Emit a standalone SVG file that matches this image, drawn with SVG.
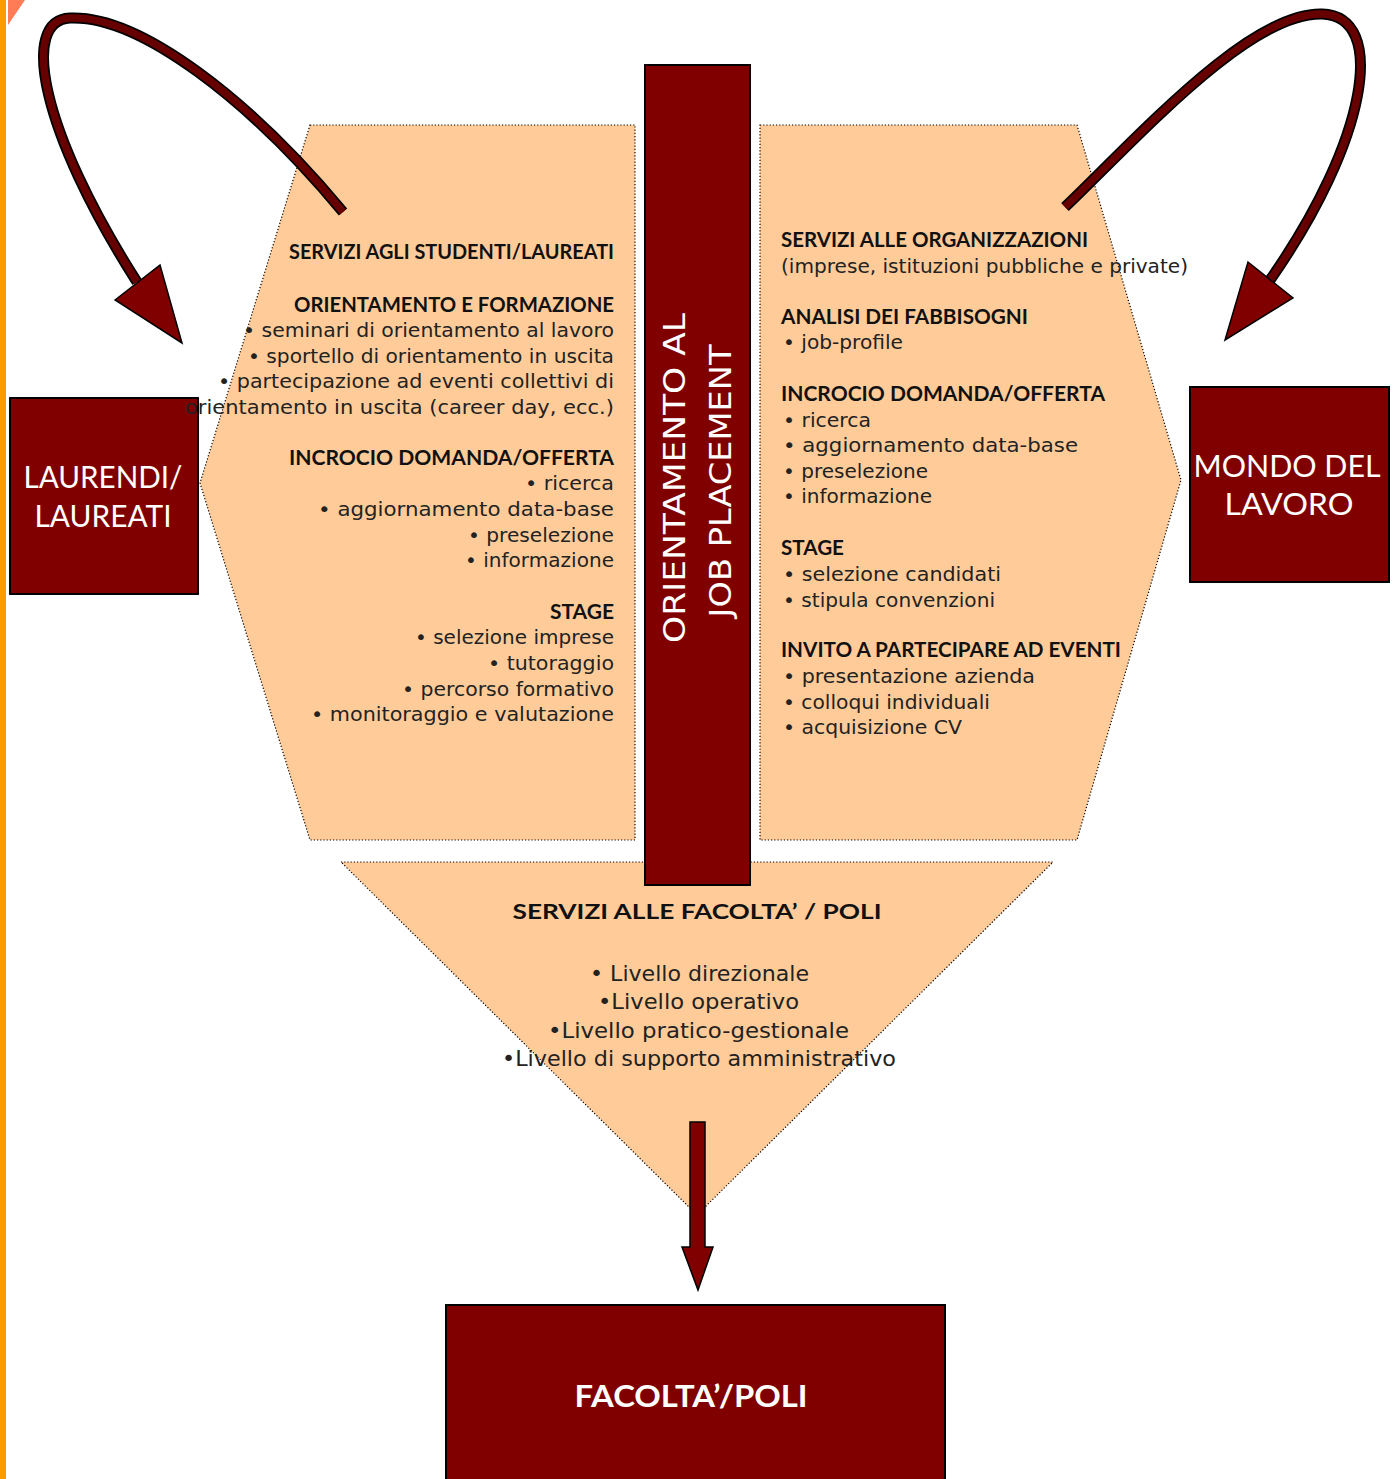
<svg xmlns="http://www.w3.org/2000/svg" width="1397" height="1479" viewBox="0 0 1397 1479">
<style>
.panel{fill:#FFCC99;stroke:#000;stroke-width:1.2;stroke-dasharray:1.2,2}
.box{fill:#800000;stroke:#000;stroke-width:2}
.h{font-family:Lato,"Open Sans",sans-serif;font-weight:700;font-size:20px;fill:#111}
.t{font-family:"DejaVu Sans","Liberation Sans",sans-serif;font-size:19px;fill:#222}
.bt{font-family:"DejaVu Sans","Liberation Sans",sans-serif;font-size:22px;fill:#222}
.lbl{font-family:Lato,"Open Sans",sans-serif;font-size:31px;fill:#fff}
.vt{font-family:"DejaVu Sans","Liberation Sans",sans-serif;font-size:31px;fill:#fff}
.shaftO{fill:none;stroke:#000;stroke-width:11}
.shaftI{fill:none;stroke:#660000;stroke-width:7.5}
.head{fill:#800000;stroke:#000;stroke-width:1.5;stroke-linejoin:miter}
</style>
<rect width="1397" height="1479" fill="#fff"/>
<rect x="0" y="0" width="6" height="1479" fill="#FF9900"/>
<polygon points="8,0 25,0 8,25" fill="#FF7C57"/>

<g id="laureati">
<rect class="box" x="10" y="398" width="188" height="196"/>
<text class="lbl" x="103" y="488" text-anchor="middle" textLength="159" lengthAdjust="spacingAndGlyphs">LAURENDI/</text>
<text class="lbl" x="103" y="527" text-anchor="middle" textLength="137" lengthAdjust="spacingAndGlyphs">LAUREATI</text>
</g>

<g id="panel-studenti">
<polygon class="panel" points="310,125 635,125 635,840 310,840 200,483"/>
<g class="h" text-anchor="end">
<text x="614" y="259" textLength="325" lengthAdjust="spacingAndGlyphs">SERVIZI AGLI STUDENTI/LAUREATI</text>
<text x="614" y="312" textLength="320" lengthAdjust="spacingAndGlyphs">ORIENTAMENTO E FORMAZIONE</text>
<text x="614" y="465" textLength="325" lengthAdjust="spacingAndGlyphs">INCROCIO DOMANDA/OFFERTA</text>
<text x="614" y="619" textLength="64" lengthAdjust="spacingAndGlyphs">STAGE</text>
</g>
<g class="t" text-anchor="end">
<text x="614" y="337" textLength="371" lengthAdjust="spacingAndGlyphs">• seminari di orientamento al lavoro</text>
<text x="614" y="363" textLength="366" lengthAdjust="spacingAndGlyphs">• sportello di orientamento in uscita</text>
<text x="614" y="388" textLength="396" lengthAdjust="spacingAndGlyphs">• partecipazione ad eventi collettivi di</text>
<text x="614" y="414" textLength="429" lengthAdjust="spacingAndGlyphs">orientamento in uscita (career day, ecc.)</text>
<text x="614" y="490" textLength="89" lengthAdjust="spacingAndGlyphs">• ricerca</text>
<text x="614" y="516" textLength="296" lengthAdjust="spacingAndGlyphs">• aggiornamento data-base</text>
<text x="614" y="542" textLength="146" lengthAdjust="spacingAndGlyphs">• preselezione</text>
<text x="614" y="567" textLength="149" lengthAdjust="spacingAndGlyphs">• informazione</text>
<text x="614" y="644" textLength="199" lengthAdjust="spacingAndGlyphs">• selezione imprese</text>
<text x="614" y="670" textLength="126" lengthAdjust="spacingAndGlyphs">• tutoraggio</text>
<text x="614" y="696" textLength="212" lengthAdjust="spacingAndGlyphs">• percorso formativo</text>
<text x="614" y="721" textLength="303" lengthAdjust="spacingAndGlyphs">• monitoraggio e valutazione</text>
</g>
</g>

<g id="panel-organizzazioni">
<polygon class="panel" points="760,125 1077,125 1181,480 1077,840 760,840"/>
<g class="h">
<text x="781" y="247" textLength="307" lengthAdjust="spacingAndGlyphs">SERVIZI ALLE ORGANIZZAZIONI</text>
<text x="781" y="324" textLength="247" lengthAdjust="spacingAndGlyphs">ANALISI DEI FABBISOGNI</text>
<text x="781" y="401" textLength="324" lengthAdjust="spacingAndGlyphs">INCROCIO DOMANDA/OFFERTA</text>
<text x="781" y="555" textLength="63" lengthAdjust="spacingAndGlyphs">STAGE</text>
<text x="781" y="657" textLength="340" lengthAdjust="spacingAndGlyphs">INVITO A PARTECIPARE AD EVENTI</text>
</g>
<g class="t">
<text x="781" y="273" textLength="407" lengthAdjust="spacingAndGlyphs">(imprese, istituzioni pubbliche e private)</text>
<text x="783" y="349" textLength="120" lengthAdjust="spacingAndGlyphs">• job-profile</text>
<text x="783" y="427" textLength="88" lengthAdjust="spacingAndGlyphs">• ricerca</text>
<text x="783" y="452" textLength="295" lengthAdjust="spacingAndGlyphs">• aggiornamento data-base</text>
<text x="783" y="478" textLength="145" lengthAdjust="spacingAndGlyphs">• preselezione</text>
<text x="783" y="503" textLength="149" lengthAdjust="spacingAndGlyphs">• informazione</text>
<text x="783" y="581" textLength="218" lengthAdjust="spacingAndGlyphs">• selezione candidati</text>
<text x="783" y="607" textLength="212" lengthAdjust="spacingAndGlyphs">• stipula convenzioni</text>
<text x="783" y="683" textLength="252" lengthAdjust="spacingAndGlyphs">• presentazione azienda</text>
<text x="783" y="709" textLength="207" lengthAdjust="spacingAndGlyphs">• colloqui individuali</text>
<text x="783" y="734" textLength="179" lengthAdjust="spacingAndGlyphs">• acquisizione CV</text>
</g>
</g>

<g id="panel-facolta">
<polygon class="panel" points="341,862 1053,862 697,1215"/>
<text class="h" x="697" y="919" font-size="24" text-anchor="middle" textLength="369" lengthAdjust="spacingAndGlyphs">SERVIZI ALLE FACOLTA’ / POLI</text>
<g class="bt">
<text x="590" y="981" textLength="219" lengthAdjust="spacingAndGlyphs">• Livello direzionale</text>
<text x="598" y="1009" textLength="201" lengthAdjust="spacingAndGlyphs">•Livello operativo</text>
<text x="548" y="1038" textLength="301" lengthAdjust="spacingAndGlyphs">•Livello pratico-gestionale</text>
<text x="502" y="1066" textLength="394" lengthAdjust="spacingAndGlyphs">•Livello di supporto amministrativo</text>
</g>
</g>

<g id="orientamento">
<rect class="box" x="645" y="65" width="105" height="820"/>
<text class="vt" transform="translate(685,478) rotate(-90)" text-anchor="middle" textLength="330" lengthAdjust="spacingAndGlyphs">ORIENTAMENTO AL</text>
<text class="vt" transform="translate(731,481) rotate(-90)" text-anchor="middle" textLength="273" lengthAdjust="spacingAndGlyphs">JOB PLACEMENT</text>
</g>

<g id="mondo-lavoro">
<rect class="box" x="1190" y="387" width="199" height="195"/>
<text class="lbl" x="1287" y="477" text-anchor="middle" textLength="187" lengthAdjust="spacingAndGlyphs">MONDO DEL</text>
<text class="lbl" x="1289" y="515" text-anchor="middle" textLength="129" lengthAdjust="spacingAndGlyphs">LAVORO</text>
</g>

<g id="facolta-poli">
<rect class="box" x="446" y="1305" width="499" height="180"/>
<text class="lbl" x="691" y="1407" font-weight="700" text-anchor="middle" textLength="233" lengthAdjust="spacingAndGlyphs">FACOLTA’/POLI</text>
</g>

<g id="connectors">
<path class="shaftO" d="M343,212 C250,100 140,15 70,18 C20,20 40,130 137,282"/>
<path class="shaftI" d="M343,212 C250,100 140,15 70,18 C20,20 40,130 137,282"/>
<polygon class="head" points="115,300 160,265 182,343"/>
<path class="shaftO" d="M1065,207 C1140,135 1250,12 1322,14 C1388,16 1368,140 1270,280"/>
<path class="shaftI" d="M1065,207 C1140,135 1250,12 1322,14 C1388,16 1368,140 1270,280"/>
<polygon class="head" points="1248,262 1293,298 1225,340"/>
<polygon class="head" points="690,1122 705,1122 705,1247 713,1247 698,1290 682,1247 690,1247"/>
</g>
</svg>
